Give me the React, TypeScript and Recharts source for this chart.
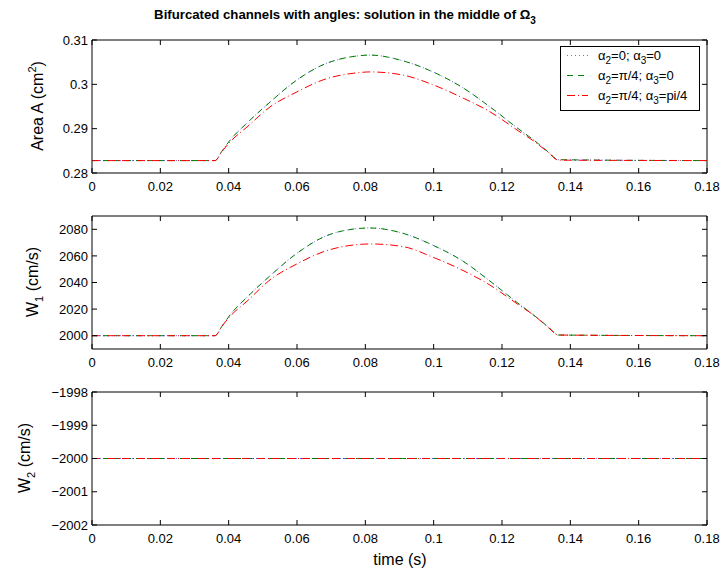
import React from 'react';
import { LineChart, Line, XAxis, YAxis, ReferenceLine } from 'recharts';

// time samples (s)
const times = [0, 0.036, 0.038, 0.0404, 0.0454, 0.0521, 0.06, 0.0676, 0.0776, 0.0814, 0.091, 0.0998, 0.1086, 0.1165, 0.1244, 0.13, 0.1336, 0.1365, 0.18];

// Area A (cm^2)
const areaA0 = [0.2828, 0.2828, 0.2849, 0.2874, 0.2913, 0.296, 0.301, 0.3044, 0.3064, 0.3066, 0.3053, 0.3028, 0.2992, 0.2949, 0.2902, 0.287, 0.2847, 0.283, 0.2828];
const areaA2 = [0.2828, 0.2828, 0.2849, 0.2874, 0.2913, 0.296, 0.301, 0.3044, 0.3064, 0.3066, 0.3053, 0.3028, 0.2992, 0.2949, 0.2902, 0.287, 0.2847, 0.283, 0.2828];
const areaA23 = [0.2828, 0.2828, 0.2848, 0.287, 0.2904, 0.2949, 0.2983, 0.301, 0.3026, 0.3028, 0.3021, 0.2999, 0.2969, 0.2938, 0.2897, 0.2868, 0.2846, 0.2829, 0.2828];

// W1 (cm/s)
const w1A0 = [2000, 2000, 2007, 2015.6, 2029, 2045, 2062, 2074, 2080.5, 2081, 2077, 2068, 2056, 2041, 2025, 2014, 2006.5, 2000.5, 2000];
const w1A2 = [2000, 2000, 2007, 2015.6, 2029, 2045, 2062, 2074, 2080.5, 2081, 2077, 2068, 2056, 2041, 2025, 2014, 2006.5, 2000.5, 2000];
const w1A23 = [2000, 2000, 2007, 2014.5, 2026, 2042, 2054, 2063, 2068.5, 2069, 2067, 2059, 2049, 2038, 2024, 2014, 2006, 2000.5, 2000];

// W2 (cm/s)
const w2A0 = [-2000, -2000, -2000, -2000, -2000, -2000, -2000, -2000, -2000, -2000, -2000, -2000, -2000, -2000, -2000, -2000, -2000, -2000, -2000];
const w2A2 = [-2000, -2000, -2000, -2000, -2000, -2000, -2000, -2000, -2000, -2000, -2000, -2000, -2000, -2000, -2000, -2000, -2000, -2000, -2000];
const w2A23 = [-2000, -2000, -2000, -2000, -2000, -2000, -2000, -2000, -2000, -2000, -2000, -2000, -2000, -2000, -2000, -2000, -2000, -2000, -2000];

const timeTicks = [0, 0.02, 0.04, 0.06, 0.08, 0.1, 0.12, 0.14, 0.16, 0.18];
const areaTicks = [0.28, 0.29, 0.3, 0.31];
const w1Ticks = [2000, 2020, 2040, 2060, 2080];
const w2Ticks = [-2002, -2001, -2000, -1999, -1998];

const FONT = '"Liberation Sans", Arial, Helvetica, sans-serif';
const BLUE = { stroke: '#6a6aff', dash: '1 3' };
const GREEN = { stroke: '#008000', dash: '6 5' };
const RED = { stroke: '#ff0000', dash: '8 3 1 3' };

// plot box inside each panel
const PT = 40;
const PB = 173;
const PL = 92;
const PR = 707;

const fmt = (v: number) => String(v).replace('-', '\u2212');

// matlab style ticks: inward, on both opposite sides
const XTick = (props: any) => {
  const x = props.x;
  return (
    <g>
      <line x1={x} x2={x} y1={PB} y2={PB - 5} stroke="#000" />
      <line x1={x} x2={x} y1={PT} y2={PT + 5} stroke="#000" />
      <text x={x} y={PB + 17.5} textAnchor="middle" fontSize={13} fontFamily={FONT} fill="#000">
        {fmt(props.payload.value)}
      </text>
    </g>
  );
};

const YTick = (props: any) => {
  const y = props.y;
  return (
    <g>
      <line x1={PL} x2={PL + 5} y1={y} y2={y} stroke="#000" />
      <line x1={PR} x2={PR - 5} y1={y} y2={y} stroke="#000" />
      <text x={PL - 4} y={y + 4.6} textAnchor="end" fontSize={13} fontFamily={FONT} fill="#000">
        {fmt(props.payload.value)}
      </text>
    </g>
  );
};

type PanelProps = {
  top: number;
  a: number[];
  b: number[];
  c: number[];
  domain: [number, number];
  yTicks: number[];
};

function Panel({ top, a, b, c, domain, yTicks }: PanelProps) {
  const rows = times.map((t, i) => ({ t, a: a[i], b: b[i], c: c[i] }));
  return (
    <div style={{ position: 'absolute', left: 0, top }}>
      <LineChart width={722} height={200} data={rows} margin={{ top: PT, right: 722 - PR, left: PL - 50, bottom: 2 }}>
        <XAxis
          dataKey="t"
          type="number"
          domain={[0, 0.18]}
          ticks={timeTicks}
          tickLine={false}
          tick={XTick}
          stroke="#000"
          height={25}
          interval={0}
        />
        <YAxis
          type="number"
          domain={domain}
          ticks={yTicks}
          tickLine={false}
          tick={YTick}
          stroke="#000"
          width={50}
          interval={0}
        />
        <ReferenceLine y={domain[1]} stroke="#000" />
        <ReferenceLine x={0.18} stroke="#000" />
        <Line dataKey="a" type="monotone" stroke={BLUE.stroke} strokeDasharray={BLUE.dash} strokeWidth={1} dot={false} isAnimationActive={false} />
        <Line dataKey="b" type="monotone" stroke={GREEN.stroke} strokeDasharray={GREEN.dash} strokeWidth={1} dot={false} isAnimationActive={false} />
        <Line dataKey="c" type="monotone" stroke={RED.stroke} strokeDasharray={RED.dash} strokeWidth={1} dot={false} isAnimationActive={false} />
      </LineChart>
    </div>
  );
}

const legendItems = [
  { spec: BLUE, a2: '0', a3: '0' },
  { spec: GREEN, a2: 'π/4', a3: '0' },
  { spec: RED, a2: 'π/4', a3: 'pi/4' },
];

export default function App() {
  return (
    <div style={{ position: 'absolute', left: 0, top: 0, width: 722, height: 577, background: '#fff', fontFamily: FONT }}>
      <Panel top={0} a={areaA0} b={areaA2} c={areaA23} domain={[0.28, 0.31]} yTicks={areaTicks} />
      <Panel top={176} a={w1A0} b={w1A2} c={w1A23} domain={[1990, 2090]} yTicks={w1Ticks} />
      <Panel top={352} a={w2A0} b={w2A2} c={w2A23} domain={[-2002, -1998]} yTicks={w2Ticks} />

      <svg width={722} height={577} style={{ position: 'absolute', left: 0, top: 0, pointerEvents: 'none' }} fontFamily={FONT}>
        <text x={345} y={19} textAnchor="middle" fontSize={13.2} fontWeight="bold">
          Bifurcated channels with angles: solution in the middle of Ω
          <tspan fontSize={10} dy={5}>3</tspan>
        </text>
        <text transform="translate(43,106) rotate(-90)" textAnchor="middle" fontSize={16}>
          Area A (cm<tspan fontSize={11} dy={-7}>2</tspan><tspan dy={7}>)</tspan>
        </text>
        <text transform="translate(38,282) rotate(-90)" textAnchor="middle" fontSize={16}>
          W<tspan fontSize={11} dy={5}>1</tspan><tspan dy={-5}> (cm/s)</tspan>
        </text>
        <text transform="translate(30,458) rotate(-90)" textAnchor="middle" fontSize={16}>
          W<tspan fontSize={11} dy={5}>2</tspan><tspan dy={-5}> (cm/s)</tspan>
        </text>
        <text x={400} y={565} textAnchor="middle" fontSize={16}>time (s)</text>

        {/* legend */}
        <rect x={560.5} y={46.5} width={139} height={64} fill="#fff" stroke="#000" />
        {legendItems.map((it, i) => {
          const cy = 55.5 + i * 20;
          return (
            <g key={i}>
              <line x1={567} x2={588} y1={cy} y2={cy} stroke={it.spec.stroke} strokeDasharray={it.spec.dash} />
              <text x={598} y={cy + 4} fontSize={13} fill="#000">
                α<tspan fontSize={10} dy={4}>2</tspan>
                <tspan dy={-4}>={it.a2}; α</tspan>
                <tspan fontSize={10} dy={4}>3</tspan>
                <tspan dy={-4}>={it.a3}</tspan>
              </text>
            </g>
          );
        })}
      </svg>
    </div>
  );
}
